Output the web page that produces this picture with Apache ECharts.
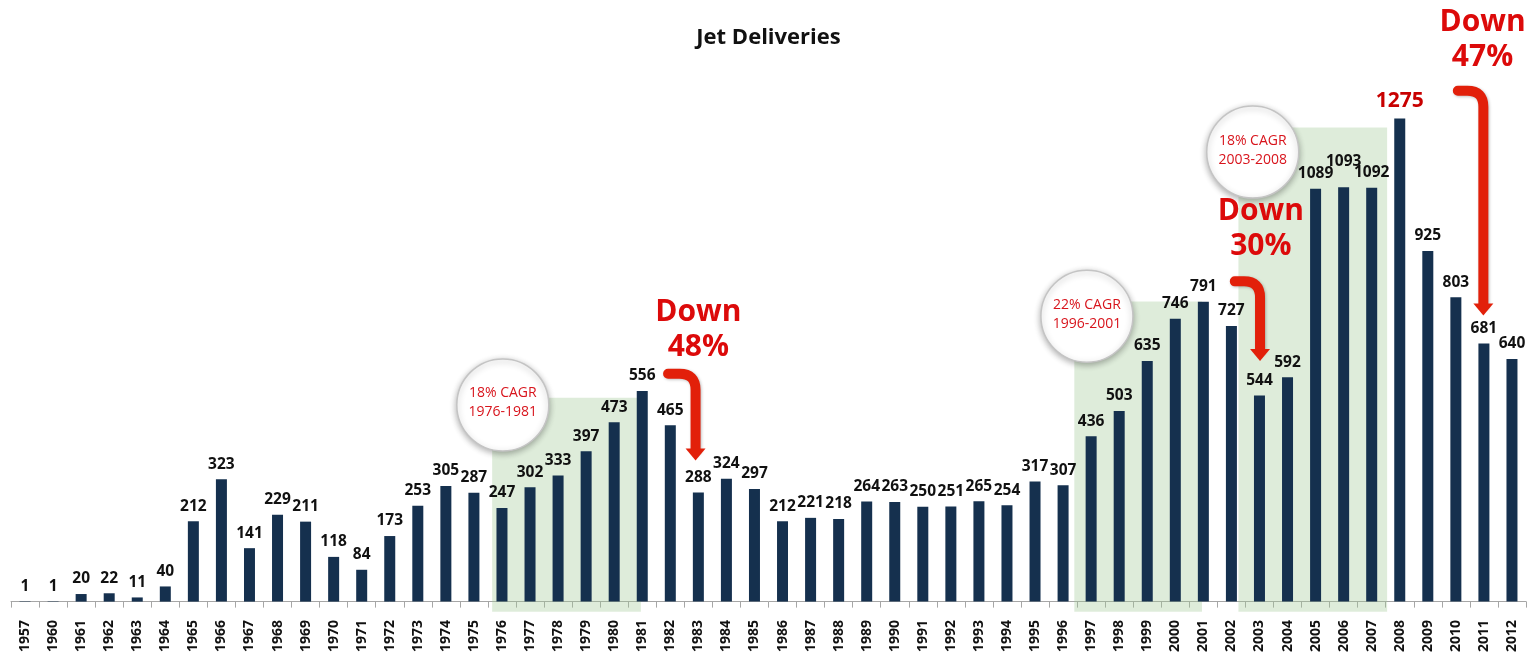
<!DOCTYPE html>
<html>
<head>
<meta charset="utf-8">
<title>Jet Deliveries</title>
<script src="https://cdn.jsdelivr.net/npm/echarts@6/dist/echarts.min.js"></script>
<style>
    html, body { margin: 0; padding: 0; background: #fff; }
    #chart { width: 1537px; height: 655px; }
</style>
</head>
<body>
<div id="chart"></div>
<script>
var years = ['1957', '1960', '1961', '1962', '1963', '1964', '1965', '1966', '1967', '1968',
    '1969', '1970', '1971', '1972', '1973', '1974', '1975', '1976', '1977', '1978',
    '1979', '1980', '1981', '1982', '1983', '1984', '1985', '1986', '1987', '1988',
    '1989', '1990', '1991', '1992', '1993', '1994', '1995', '1996', '1997', '1998',
    '1999', '2000', '2001', '2002', '2003', '2004', '2005', '2006', '2007', '2008',
    '2009', '2010', '2011', '2012'];
var deliveries = [1, 1, 20, 22, 11, 40, 212, 323, 141, 229,
    211, 118, 84, 173, 253, 305, 287, 247, 302, 333,
    397, 473, 556, 465, 288, 324, 297, 212, 221, 218,
    264, 263, 250, 251, 265, 254, 317, 307, 436, 503,
    635, 746, 791, 727, 544, 592, 1089, 1093, 1092, 1275,
    925, 803, 681, 640];
var peakYear = '2008';

// growth periods (shaded) : [from, to, top] in category index / deliveries
var growthBands = [[16.65, 21.95, 538], [37.4, 41.95, 792], [43.25, 48.55, 1251]];
var cagrPos = [[17.03, 519], [37.85, 753], [43.76, 1186]];
var cagrText = ['18% CAGR\n1976-1981', '22% CAGR\n1996-2001', '18% CAGR\n2003-2008'];
var downPos = [[24, 717], [44.05, 984], [51.95, 1483]];
var downText = ['Down\n48%', 'Down\n30%', 'Down\n47%'];
// arrows: [startX, startY, tipX, tipY]
var downArrows = [[22.92, 601, 23.9, 372], [43.12, 845, 44.02, 635], [51.07, 1348, 51.98, 755]];

var chart = echarts.init(document.getElementById('chart'));
var FONT = '"Open Sans", Lato, sans-serif';

var barData = deliveries.map(function (v, i) {
    if (years[i] === peakYear) {
        return { value: v, label: { color: '#c80000', fontSize: 21 } };
    }
    if (years[i] === '2006') {
        return { value: v, label: { offset: [0, -11] } };
    }
    return v;
});

var option = {
    backgroundColor: '#fff',
    animation: false,
    title: {
        text: 'Jet Deliveries',
        left: 'center',
        top: 22,
        textStyle: { fontFamily: FONT, fontSize: 22, fontWeight: 'bold', color: '#111' }
    },
    grid: { left: 11, right: 11, top: 71, bottom: 39 },
    xAxis: [{
        type: 'category',
        data: years,
        axisLine: { onZero: true, lineStyle: { color: '#a6a6a6', width: 1 } },
        axisTick: { show: true, length: 6, lineStyle: { color: '#a6a6a6' } },
        axisLabel: {
            rotate: 90,
            interval: 0,
            margin: 7,
            fontFamily: FONT,
            fontWeight: 'bold',
            fontSize: 14,
            color: '#111'
        }
    }, {
        type: 'value',
        min: -0.5,
        max: 53.5,
        show: false
    }],
    yAxis: {
        type: 'value',
        min: -30,
        max: 1400,
        show: false
    },
    series: [{
        name: 'growth',
        type: 'custom',
        xAxisIndex: 1,
        z: 1,
        silent: true,
        data: growthBands,
        renderItem: function (params, api) {
            var p1 = api.coord([api.value(0), api.value(2)]);
            var p2 = api.coord([api.value(1), -27]);
            return {
                type: 'rect',
                shape: { x: p1[0], y: p1[1], width: p2[0] - p1[0], height: p2[1] - p1[1] },
                style: { fill: 'rgba(160,200,150,0.35)' }
            };
        }
    }, {
        name: 'Deliveries',
        type: 'bar',
        z: 2,
        barWidth: 11,
        data: barData,
        itemStyle: { color: '#15304e' },
        label: {
            show: true,
            position: 'top',
            distance: 7,
            fontFamily: FONT,
            fontWeight: 'bold',
            fontSize: 15.5,
            color: '#111'
        }
    }, {
        name: 'cagr',
        type: 'custom',
        xAxisIndex: 1,
        z: 5,
        silent: true,
        data: cagrPos,
        renderItem: function (params, api) {
            var c = api.coord([api.value(0), api.value(1)]);
            return {
                type: 'group',
                children: [{
                    type: 'circle',
                    shape: { cx: c[0], cy: c[1], r: 46 },
                    style: {
                        fill: '#fff', stroke: '#c4c4c4', lineWidth: 1.5,
                        shadowBlur: 6, shadowColor: 'rgba(0,0,0,0.3)', shadowOffsetY: 2
                    }
                }, {
                    type: 'text',
                    x: c[0],
                    y: c[1] - 2,
                    style: {
                        text: cagrText[params.dataIndex],
                        fill: '#d8141c',
                        font: '14px ' + FONT,
                        lineHeight: 19,
                        align: 'center',
                        verticalAlign: 'middle'
                    }
                }]
            };
        }
    }, {
        name: 'arrows',
        type: 'custom',
        xAxisIndex: 1,
        z: 5,
        silent: true,
        data: downArrows,
        renderItem: function (params, api) {
            var s = api.coord([api.value(0), api.value(1)]);
            var t = api.coord([api.value(2), api.value(3)]);
            var r = 16, head = 12;
            var d = 'M' + s[0] + ' ' + s[1] +
                ' L' + (t[0] - r) + ' ' + s[1] +
                ' Q' + t[0] + ' ' + s[1] + ' ' + t[0] + ' ' + (s[1] + r) +
                ' L' + t[0] + ' ' + (t[1] - head + 1);
            return {
                type: 'group',
                children: [{
                    type: 'path',
                    shape: { pathData: d },
                    style: {
                        fill: null, stroke: '#e2200a', lineWidth: 10, lineCap: 'round',
                        shadowBlur: 3, shadowColor: 'rgba(0,0,0,0.25)', shadowOffsetX: 1, shadowOffsetY: 1
                    }
                }, {
                    type: 'polygon',
                    shape: { points: [[t[0] - 10, t[1] - head], [t[0] + 10, t[1] - head], [t[0], t[1]]] },
                    style: { fill: '#e2200a' }
                }]
            };
        }
    }, {
        name: 'down',
        type: 'custom',
        xAxisIndex: 1,
        z: 6,
        silent: true,
        data: downPos,
        renderItem: function (params, api) {
            var c = api.coord([api.value(0), api.value(1)]);
            return {
                type: 'text',
                x: c[0],
                y: c[1],
                style: {
                    text: downText[params.dataIndex],
                    fill: '#dc0a0a',
                    font: 'bold 30px ' + FONT,
                    lineHeight: 35,
                    align: 'center',
                    verticalAlign: 'middle'
                }
            };
        }
    }]
};

chart.setOption(option);
</script>
</body>
</html>
